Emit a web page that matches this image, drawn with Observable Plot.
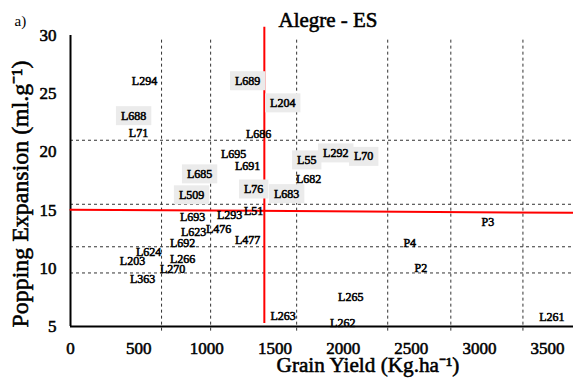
<!DOCTYPE html>
<html>
<head>
<meta charset="utf-8">
<script src="https://cdn.jsdelivr.net/npm/d3@7"></script>
<script src="https://cdn.jsdelivr.net/npm/@observablehq/plot@0.6"></script>
<style>
  html, body { margin: 0; padding: 0; background: #fff; }
  #chart svg { display: block; }
  #chart svg text { font-family: "Liberation Serif", serif; font-weight: normal; stroke: #000; stroke-width: 0.55px; }
</style>
</head>
<body>
<div id="chart"></div>
<script>
// ---- data ----
const genotypes = ["L294","L689","L688","L71","L204","L686","L695","L691","L685","L509","L76","L683","L55","L292","L70","L682","L51","L293","L693","L623","L476","L692","L477","L624","L203","L266","L270","L363","L263","L262","L265","L261","P3","P4","P2"];
const grainYield = [543,1300,463,499,1557,1380,1197,1300,947,888,1344,1586,1733,1946,2151,1747,1344,1167,896,903,1087,822,1300,573,455,822,749,529,1560,1997,2056,3532,3062,2489,2570];
const poppingExpansion = [26.1,26.1,23.1,21.6,24.2,21.5,19.8,18.8,18.1,16.3,16.8,16.4,19.3,19.9,19.6,17.7,14.9,14.6,14.4,13.1,13.4,12.2,12.4,11.4,10.6,10.8,9.9,9.1,5.9,5.3,7.5,5.8,14.0,12.2,10.0];
const highlighted = ["L689","L688","L204","L685","L509","L76","L683","L55","L292","L70"];

const xTicks = [0,500,1000,1500,2000,2500,3000,3500];
const yTicks = [5,10,15,20,25,30];
const verticalDashes = [668,1028,1659,2327,2790,3319];
const horizontalDashes = [21.0,15.5,11.85,9.6];
const meanYield = 1422;
const meanPoppingLine = [{x: 0, y: 15.03}, {x: 3690, y: 14.77}];

const titleText = "Alegre - ES";
const panelTag = "a)";
const xLabel = "Grain Yield (Kg.ha\u207B\u00B9)";
const yLabel = "Popping Expansion (ml.g\u207B\u00B9)";

const points = genotypes.map((g, i) => ({name: g, x: grainYield[i], y: poppingExpansion[i]}));

const chart = Plot.plot({
  width: 573,
  height: 381,
  marginLeft: 70,
  marginRight: 0,
  marginTop: 35,
  marginBottom: 55,
  style: {fontFamily: "'Liberation Serif', serif", fontSize: "17px", color: "#000", background: "#fff", overflow: "visible"},
  x: {domain: [0, 3690], ticks: xTicks, tickSize: 0, tickPadding: 15, label: null, tickFormat: d => String(d)},
  y: {domain: [5, 30], ticks: yTicks, tickSize: 0, tickPadding: 14, label: null},
  marks: [
    Plot.ruleX(verticalDashes, {y1: 4.6, y2: 29.8, stroke: "#333", strokeWidth: 1, strokeDasharray: "3,3"}),
    Plot.ruleY(horizontalDashes, {stroke: "#333", strokeWidth: 1, strokeDasharray: "3,3"}),
    Plot.ruleX([0], {y1: 5, y2: 30, stroke: "#000", strokeWidth: 2}),
    Plot.ruleY([5], {stroke: "#000", strokeWidth: 2}),
    Plot.ruleX([meanYield], {y1: 5.26, y2: 30.7, stroke: "#ff0000", strokeWidth: 2}),
    Plot.line(meanPoppingLine, {x: "x", y: "y", stroke: "#ff0000", strokeWidth: 2}),
    Plot.text(points, {x: "x", y: "y", text: "name", fontSize: 12, fill: "#000"}),
    Plot.text([titleText], {frameAnchor: "top", textAnchor: "middle", dx: 6, dy: -23, fontSize: 18}),
    Plot.text([panelTag], {frameAnchor: "top-left", dx: -56, dy: -20, fontSize: 15}),
    Plot.text([xLabel], {frameAnchor: "bottom", textAnchor: "middle", dx: 46, dy: 45, fontSize: 18}),
    Plot.text([yLabel], {frameAnchor: "left", textAnchor: "middle", lineAnchor: "middle", dx: -50, dy: 13, rotate: -90, fontSize: 18})
  ]
});

document.getElementById("chart").appendChild(chart);

// size the long titles to the lengths they have in the reference
const targetLength = {[titleText]: 99, [xLabel]: 183, [yLabel]: 267};
const ns = "http://www.w3.org/2000/svg";
chart.querySelectorAll("text").forEach(t => {
  const s = t.textContent;
  if (s === panelTag) t.style.stroke = "none";
  if (targetLength[s]) {
    const len = t.getComputedTextLength();
    const fs = parseFloat(getComputedStyle(t).fontSize);
    if (len > 0) t.style.fontSize = (fs * targetLength[s] / len) + "px";
  }
  if (highlighted.includes(s)) {
    const b = t.getBBox();
    const r = document.createElementNS(ns, "rect");
    r.setAttribute("x", b.x - 5);
    r.setAttribute("y", b.y - 2.5);
    r.setAttribute("width", b.width + 10);
    r.setAttribute("height", b.height + 5);
    r.setAttribute("fill", "#ebebeb");
    const tr = t.getAttribute("transform");
    if (tr) r.setAttribute("transform", tr);
    t.parentNode.insertBefore(r, t);
  }
});
</script>
</body>
</html>
